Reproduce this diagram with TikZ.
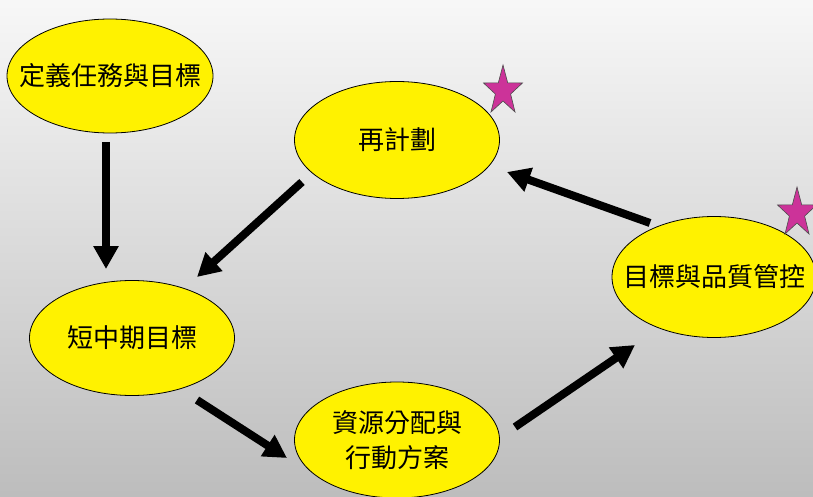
\documentclass[tikz,border=0pt]{standalone}
\usepackage{fontspec}
\newfontfamily\cjk{Noto Sans CJK TC}
\usepackage{tikz}
\usetikzlibrary{calc,arrows.meta,shapes.geometric}
\definecolor{starpink}{RGB}{204,51,153}
\tikzset{
	goal/.style={ellipse, draw=black, line width=0.8pt, fill=yellow, inner xsep=-40pt, inner ysep=-12pt, minimum width=205pt, minimum height=116pt, align=center, font=\cjk\fontsize{26}{35}\selectfont},
	flow/.style={line width=8pt, -{Triangle[length=23pt,width=24pt]}},
	starfill/.style={draw=black!70, line width=0.6pt, fill=starpink}
}
% one star, centre (#1,#2)
\def\drawstar(#1,#2){\draw[starfill] plot[samples at={0,...,9}] ({#1+(mod(\x,2)==0?20.5:8)*cos(90+36*\x)}, {#2-(mod(\x,2)==0?26:10)*sin(90+36*\x)}) -- cycle;}

\begin{document}
\begin{tikzpicture}[x=1pt, y=-1pt]
		%%%%% START %%%%%
		
		\useasboundingbox (0, 0) rectangle (813, 497);
		\shade[top color=black!3, bottom color=black!26] (0, 0) rectangle (813, 497);
		
		\node[goal, minimum width=206pt, minimum height=114pt] (e1) at (110, 76) {定義任務與目標};
		\node[goal, minimum height=117pt] (e2) at (397, 140) {再計劃};
		\node[goal, minimum height=115pt] (e3) at (132, 338) {短中期目標};
		\node[goal] (e4) at (397, 440) {資源分配與\\行動方案};
		\node[goal, minimum width=204pt, minimum height=121pt] (e5) at (714, 277) {目標與品質管控};
		
		\drawstar(503,91)
		\drawstar(797,213)
		
		\draw[flow] ($(e1)+(-4,66)$) -- ($(e3)+(-26,-69)$);
		\draw[flow] ($(e2)+(-95,42)$) -- ($(e3)+(65,-61)$);
		\draw[flow] ($(e3)+(65,62)$) -- ($(e4)+(-110,18)$);
		\draw[flow] ($(e4)+(118,-13)$) -- ($(e5)+(-79,68)$);
		\draw[flow] ($(e5)+(-64,-54)$) -- ($(e2)+(110,32)$);
		
		%%%%% END %%%%%
	\end{tikzpicture}
\end{document}
